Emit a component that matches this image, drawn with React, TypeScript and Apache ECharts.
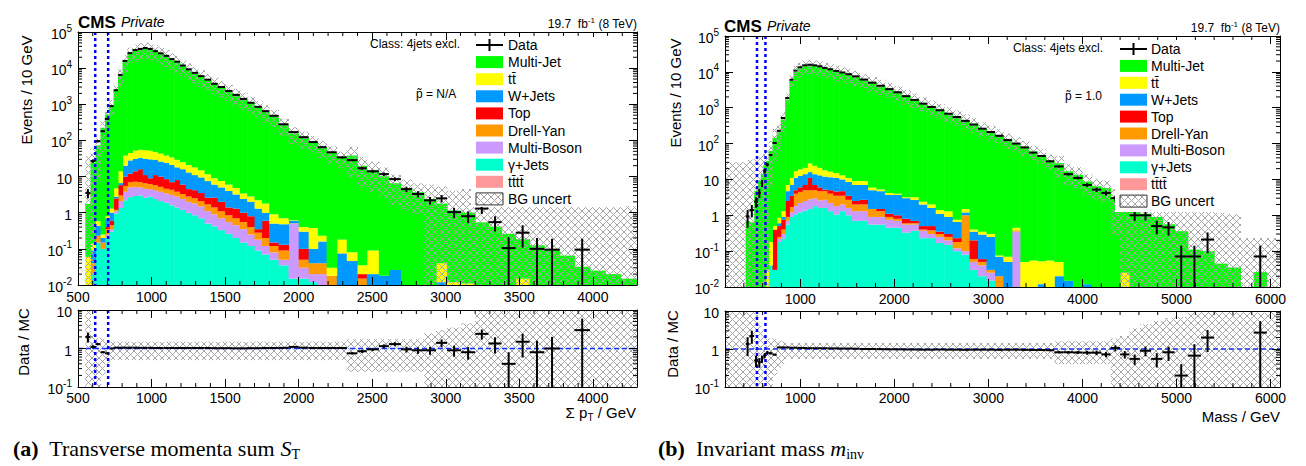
import React, { useEffect, useRef } from "react";
import * as echarts from "echarts";

// ================= Panel (a): transverse momenta sum =================
const L_EDGES = [550, 585, 619, 653, 683, 713, 742, 772, 803, 836, 870, 906, 940, 974, 1008, 1044, 1082, 1120, 1155, 1193, 1233, 1273, 1315, 1360, 1405, 1450, 1500, 1550, 1600, 1650, 1700, 1750, 1800, 1863, 1931, 2000, 2068, 2130, 2190, 2259, 2327, 2400, 2463, 2545, 2613, 2695, 2770, 2852, 2934, 3009, 3104, 3200, 3290, 3380, 3475, 3570, 3670, 3775, 3875, 3980, 4085, 4190, 4300];
const L_DATA = [3.5, 27, 95, 180, 390, 890, 2450, 6500, 15800, 26000,
  31600, 34000, 36000, 34000, 29500, 25700, 21900, 17800, 15100, 11800,
  9300, 7400, 6000, 4800, 3700, 3000, 2340, 1820, 1410, 1100,
  850, 645, 480, 280, 170, 123, 90, 65, 47, 34,
  28.5, 17, 14, 11.7, 8.5, 4.5, 3.3, 2.2, 2.5, 1.04,
  0.8, 1.3, 0.55, 0.105, 0.28, 0.1, 0.095, 0, 0.095, 0, 0, 0];
const L_RATIO = [2.0, 1.1, 1.3, 0.8, 0.75, 1.0, 1.05, 1.05, 1.05, 1.05,
  1.05, 1.04, 1.04, 1.04, 1.03, 1.03, 1.03, 1.03, 1.03, 1.03,
  1.03, 1.03, 1.03, 1.03, 1.02, 1.02, 1.02, 1.01, 1.01, 1.02,
  1.02, 1.03, 1.03, 1.04, 1.1, 1.05, 1.03, 1.03, 1.03, 1.03,
  0.75, 0.85, 0.95, 1.15, 1.3, 0.95, 0.9, 0.9, 1.4, 0.9,
  0.8, 2.4, 1.35, 0.4, 1.5, 0.8, 1.0, 0, 3.0, 0, 0, 0];
const L_MULTIJET = [1.7, 24.4, 72, 225, 520, 888, 2330, 6180, 15000, 24700,
  30000, 32600, 34600, 32600, 28600, 24900, 21200, 17200, 14600, 11400,
  9000, 7170, 5800, 4650, 3620, 2940, 2290, 1800, 1390, 1080,
  830, 625, 465, 269, 154, 117, 87, 63, 45.6, 33,
  38, 20, 14.7, 10.2, 6.5, 4.7, 3.7, 2.4, 1.75, 1.14,
  1.0, 0.54, 0.41, 0.26, 0.17, 0.125, 0.095, 0.065, 0.032, 0.025, 0.02, 0.015];
const L_TTBAR = [0.06, 0.05, 0.15, 0.05, 0.1, 0.3, 1.9, 7.4, 18, 17,
  21, 22, 23, 22, 19, 17, 14, 13, 11, 9,
  8, 7, 5.5, 4, 3, 2.5, 2, 1.6, 1.0, 0.8,
  0.9, 0.8, 0.4, 0.22, 0.02, 0.1, 0.28, 0.07, 0.012, 0.105,
  0.034, 0.015, 0.07, 0, 0, 0, 0, 0, 0.028, 0.012,
  0.011, 0, 0, 0, 0.015];
const L_WJETS = [0, 0.05, 0.2, 0.05, 0.3, 0.4, 0.3, 0.8, 10, 16,
  17, 17, 20, 21, 18, 16, 15.5, 14, 10, 10,
  8.5, 6.8, 6, 4.9, 3.4, 3, 2.6, 1.9, 1.4, 1.2,
  0.95, 0.4, 0.35, 0.35, 0.09, 0.2, 0.06, 0.12, 0, 0.075,
  0.046, 0, 0.02, 0.018, 0.026, 0, 0, 0, 0.012];
const L_TOP = [0, 0, 0, 0, 0.05, 0.15, 1.3, 2.8, 4.5, 5,
  6.8, 9, 4.5, 2.8, 5.2, 4.8, 3.9, 2.7, 4.2, 2.7,
  1.7, 1.7, 1.4, 0.9, 1.2, 0.9, 0.55, 0.6, 0.45, 0.4,
  0.07, 0.4, 0.03, 0.04, 0, 0.05, 0, 0, 0, 0,
  0, 0.005];
const L_DY = [0, 0.02, 0.08, 0.05, 0.1, 0.1, 0.1, 0.9, 1.7, 2,
  2.0, 2, 1.9, 1.7, 1.6, 1.4, 1.2, 1.2, 1.0, 0.9,
  0.8, 0.7, 0.6, 0.6, 0.5, 0.4, 0.3, 0.25, 0.2, 0.15,
  0.1, 0.08, 0.04, 0.04, 0.01, 0.02, 0.02, 0.02, 0.018, 0,
  0, 0.015];
const L_MULTIBOSON = [0, 0, 0, 0, 0.05, 0.05, 0.15, 0.75, 1.6, 2.3,
  2.3, 2, 2, 1.7, 1.8, 1.7, 1.5, 1.5, 1.4, 1.2,
  1.0, 0.95, 0.8, 0.6, 0.48, 0.37, 0.29, 0.25, 0.2, 0.13,
  0.09, 0.05, 0.03, 0.015, 0.485, 0.015, 0.008, 0.01];
const L_GJETS = [0, 0.02, 0.15, 0.1, 0.2, 0.3, 0.95, 1.35, 2.2, 2.7,
  2.9, 3, 2.6, 2.8, 2.4, 2.1, 1.9, 1.6, 1.4, 1.2,
  1.0, 0.85, 0.7, 0.5, 0.42, 0.33, 0.26, 0.2, 0.15, 0.12,
  0.09, 0.07, 0.05, 0.035, 0.015, 0.015, 0.012, 0.01];
const L_UNC = [20, 1.4, 0.9, 0.8, 0.6, 0.5, 0.5, 0.5, 0.5, 0.5,
  0.5, 0.5, 0.5, 0.5, 0.5, 0.5, 0.5, 0.5, 0.5, 0.5,
  0.5, 0.5, 0.5, 0.5, 0.5, 0.5, 0.5, 0.5, 0.5, 0.5,
  0.5, 0.5, 0.5, 0.5, 0.5, 0.5, 0.5, 0.5, 0.5, 0.5,
  0.75, 0.75, 0.75, 0.75, 0.75, 0.75, 0.75, 1.5, 2, 2.5,
  3.5, 9, 9, 9, 9, 12, 15, 25, 45, 60, 75, 100];
const L_ROI = [617, 705];

// ================= Panel (b): invariant mass =================
const R_EDGES = [200, 420, 460, 510, 550, 580, 607, 635, 665, 705, 750, 793, 840, 885, 927, 970, 1020, 1075, 1128, 1180, 1234, 1290, 1350, 1415, 1480, 1550, 1630, 1720, 1810, 1900, 1990, 2080, 2170, 2260, 2350, 2440, 2530, 2620, 2710, 2800, 2890, 2980, 3070, 3160, 3250, 3340, 3430, 3520, 3610, 3700, 3800, 3900, 4000, 4100, 4200, 4300, 4400, 4500, 4610, 4730, 4850, 4980, 5120, 5260, 5400, 5540, 5680, 5820, 5960, 6100];
const R_DATA = [0, 0.93, 1.4, 2.4, 4.2, 7.9, 17, 26, 48, 104,
  227, 515, 1860, 6000, 10800, 13400, 15200, 15800, 15200, 14300,
  12900, 11800, 10600, 9600, 8600, 7500, 6100, 5000, 4100, 3300,
  2700, 2100, 1650, 1300, 1050, 850, 680, 550, 430, 340,
  260, 210, 165, 125, 100, 78, 56, 45, 32, 23,
  14, 11, 7, 5.2, 4.2, 3, 2, 1.0, 1.0, 0.5,
  0.46, 0.071, 0.071, 0.21, 0, 0, 0, 0.071, 0];
const R_RATIO = [0, 1.35, 2.2, 0.5, 0.45, 0.55, 0.67, 0.8, 0.77, 0.71,
  1.1, 1.1, 1.1, 1.08, 1.08, 1.07, 1.06, 1.05, 1.05, 1.05,
  1.05, 1.04, 1.04, 1.03, 1.03, 1.02, 1.0, 1.0, 0.99, 0.98,
  0.98, 0.97, 0.97, 0.96, 0.96, 0.97, 0.96, 0.96, 0.95, 0.96,
  0.96, 0.96, 0.95, 0.96, 0.96, 0.95, 0.94, 0.94, 0.93, 0.82,
  0.82, 0.81, 0.8, 0.8, 0.72, 1.06, 0.72, 0.55, 0.9, 0.55,
  0.82, 0.2, 0.67, 2.0, 0, 0, 0, 2.7, 0];
const R_MULTIJET = [0.01, 0.69, 0.64, 4.8, 9.3, 14.4, 25, 32.5, 62, 146,
  206, 468, 1683, 5540, 9980, 12480, 14280, 15020, 14480, 13580,
  12270, 11330, 10180, 9310, 8340, 7340, 6090, 4990, 4135, 3365,
  2750, 2160, 1697, 1352, 1092, 875, 707, 572, 451, 354,
  271, 219, 174, 130, 104, 82, 60, 48, 34, 28,
  17, 13.6, 8.7, 6.5, 5.8, 2.8, 2.8, 1.8, 1.1, 0.9,
  0.56, 0.36, 0.11, 0.1, 0.045, 0.035, 0.01, 0.026, 0.01];
const R_TTBAR = [0, 0, 0, 0, 0, 0, 0, 0.03, 0.14, 0.1,
  0.25, 0.4, 2.3, 4, 6, 6.5, 7, 12, 10, 8,
  6, 5, 4, 3, 2.5, 2, 2, 1, 0.5, 0.5,
  0.3, 0.2, 0.5, 0.4, 0.4, 0.3, 0.4, 0.1, 0.3, 0.05,
  0.06, 0.05, 0.005, 0.02, 0.07, 0.05, 0.055, 0.04, 0.055, 0.03,
  0, 0, 0, 0, 0, 0, 0.025];
const R_WJETS = [0, 0, 0, 0, 0, 0, 0, 0, 0, 0,
  0.1, 0.15, 2.2, 3.5, 6, 6.5, 7, 5, 7, 7,
  6.8, 6.5, 6.4, 5.3, 5, 4.5, 4.3, 3.5, 3.2, 2.6,
  2.7, 2.2, 2.0, 1.5, 1.1, 0.75, 0.6, 0.42, 0.2, 0.15,
  0.23, 0.22, 0.05, 0.05, 0, 0, 0, 0.012, 0, 0.02,
  0.015, 0, 0.012];
const R_TOP = [0, 0, 0, 0, 0, 0, 0, 0, 0, 0.37,
  0.25, 0.35, 1.6, 1.8, 1.0, 1.5, 2, 6, 2, 1.3,
  0.5, 1.0, 1.1, 1.2, 0.8, 0.5, 0.7, 0, 0.2, 0.2,
  0.2, 0.2, 0.1, 0.1, 0.12, 0.05, 0.05, 0.05, 0, 0.14,
  0.01];
const R_DY = [0, 0, 0, 0, 0, 0, 0, 0, 0, 0,
  0.03, 0.1, 0.2, 0.5, 2.2, 2.3, 2.5, 2.2, 2, 2.1,
  2.0, 1.8, 1.7, 1.5, 1.1, 0.7, 0.7, 0.6, 0.4, 0.15,
  0.1, 0.05, 0.05, 0.03, 0.08, 0.05, 0.05, 0.06, 0.9, 0.01,
  0.01, 0.005, 0.01, 0, 0.03];
const R_MULTIBOSON = [0, 0, 0, 0, 0, 0, 0, 0, 0, 0,
  0.04, 0.08, 0.15, 0.3, 0.75, 1.0, 1.15, 1.3, 1.2, 1.0,
  1.1, 0.9, 0.75, 0.7, 0.6, 0.6, 0.6, 0.35, 0.35, 0.3,
  0.25, 0.22, 0.18, 0.14, 0.07, 0.08, 0.05, 0.02, 0.02, 0.02,
  0.02, 0.01, 0.01, 0, 0.35];
const R_GJETS = [0, 0, 0, 0, 0, 0, 0, 0, 0.04, 0.03,
  0.18, 0.22, 0.55, 0.9, 1.05, 1.2, 1.35, 1.5, 1.8, 1.6,
  1.6, 1.3, 1.05, 1.3, 1.0, 0.7, 0.7, 0.55, 0.55, 0.45,
  0.45, 0.33, 0.37, 0.23, 0.23, 0.17, 0.15, 0.1, 0.08, 0.03,
  0.02, 0.015];
const R_UNC = [3000, 50, 55, 7, 3.5, 2.3, 1.2, 1.0, 0.9, 0.8,
  0.7, 0.6, 0.45, 0.45, 0.45, 0.45, 0.45, 0.45, 0.45, 0.45,
  0.45, 0.45, 0.45, 0.45, 0.45, 0.45, 0.45, 0.45, 0.45, 0.45,
  0.45, 0.45, 0.45, 0.45, 0.45, 0.45, 0.45, 0.45, 0.45, 0.45,
  0.45, 0.45, 0.45, 0.45, 0.45, 0.45, 0.45, 0.45, 0.45, 0.6,
  0.6, 0.6, 0.6, 0.6, 0.6, 0.9, 1.2, 2.5, 3.5, 4.5,
  5.5, 6, 10, 12, 25, 30, 22, 8, 22];
const R_ROI = [540, 630];

const LEGEND_LABELS = ["Data", "Multi-Jet", "tt\u0304", "W+Jets", "Top", "Drell-Yan", "Multi-Boson", "\u03b3+Jets", "tt\u0304tt\u0304", "BG uncert"];

const COL = { mj: "#00ff00", tt: "#ffff00", wj: "#0099ff", top: "#ff0000", dy: "#ff9900", mb: "#cc99ff", gj: "#00ffcc", tttt: "#ff9999" };
const LEGEND_COLORS = [null, COL.mj, COL.tt, COL.wj, COL.top, COL.dy, COL.mb, COL.gj, COL.tttt, null];
const FONT = "'Liberation Sans', Arial, Helvetica, sans-serif";
const SERIF = "'Liberation Serif', 'Times New Roman', serif";
const Y_MIN = 0.01, Y_MAX = 1e5, R_MIN = 0.1, R_MAX = 10;

function makeHatch() {
  const s = 7;
  const c = document.createElement("canvas");
  c.width = s; c.height = s;
  const g = c.getContext("2d")!;
  g.strokeStyle = "#a6a6a6";
  g.lineWidth = 1;
  g.beginPath();
  g.moveTo(0, 0); g.lineTo(s, s);
  g.moveTo(s, 0); g.lineTo(0, s);
  g.stroke();
  return c;
}

function rectSeries(items: number[][], xi: number, yi: number, fill: any, z: number) {
  return {
    type: "custom", xAxisIndex: xi, yAxisIndex: yi, z, silent: true,
    encode: { x: [0, 1], y: [2, 3] }, data: items,
    renderItem: (_p: any, api: any) => {
      const a = api.coord([api.value(0), api.value(3)]);
      const b = api.coord([api.value(1), api.value(2)]);
      return { type: "rect", shape: { x: a[0], y: a[1], width: b[0] - a[0] + 0.5, height: b[1] - a[1] }, style: { fill } };
    },
  };
}

function pointSeries(items: number[][], xi: number, yi: number) {
  return {
    type: "custom", xAxisIndex: xi, yAxisIndex: yi, z: 6, silent: true,
    encode: { x: [0, 1], y: [2, 3, 4] }, data: items,
    renderItem: (_p: any, api: any) => {
      const x0 = api.value(0), x1 = api.value(1), v = api.value(2), lo = api.value(3), hi = api.value(4);
      const xc = (x0 + x1) / 2;
      const a = api.coord([x0, v]), b = api.coord([x1, v]);
      const l = api.coord([xc, lo]), h = api.coord([xc, hi]);
      return {
        type: "group", children: [
          { type: "line", shape: { x1: a[0], y1: a[1], x2: b[0], y2: b[1] }, style: { stroke: "#000", lineWidth: 2 } },
          { type: "line", shape: { x1: l[0], y1: l[1], x2: h[0], y2: h[1] }, style: { stroke: "#000", lineWidth: 2 } },
        ],
      };
    },
  };
}

function vLines(xs: number[], xi: number, yi: number, yRef: number) {
  return {
    type: "custom", xAxisIndex: xi, yAxisIndex: yi, z: 5, silent: true,
    encode: { x: 0, y: 1 }, data: xs.map((x) => [x, yRef]),
    renderItem: (params: any, api: any) => {
      const cs = params.coordSys;
      const p = api.coord([api.value(0), api.value(1)]);
      return { type: "line", shape: { x1: p[0], y1: cs.y, x2: p[0], y2: cs.y + cs.height }, style: { stroke: "#0000ff", lineWidth: 2.5, lineDash: [3, 3] } };
    },
  };
}

function hLine(xRef: number, yv: number, xi: number, yi: number) {
  return {
    type: "custom", xAxisIndex: xi, yAxisIndex: yi, z: 5, silent: true,
    encode: { x: 0, y: 1 }, data: [[xRef, yv]],
    renderItem: (params: any, api: any) => {
      const cs = params.coordSys;
      const p = api.coord([api.value(0), api.value(1)]);
      return { type: "line", shape: { x1: cs.x, y1: p[1], x2: cs.x + cs.width, y2: p[1] }, style: { stroke: "#1030ff", lineWidth: 1.6, lineDash: [5, 3] } };
    },
  };
}

function minorTicks(xTicks: number[], yTicks: number[], xRef: number, yRef: number, xi: number, yi: number) {
  const data = [...xTicks.map((v) => [v, yRef, 0]), ...yTicks.map((v) => [xRef, v, 1])];
  return {
    type: "custom", xAxisIndex: xi, yAxisIndex: yi, z: 12, silent: true,
    encode: { x: 0, y: 1 }, data,
    renderItem: (params: any, api: any) => {
      const cs = params.coordSys;
      const p = api.coord([api.value(0), api.value(1)]);
      const st = { stroke: "#000", lineWidth: 1 };
      if (api.value(2) === 0) {
        return { type: "group", children: [
          { type: "line", shape: { x1: p[0], y1: cs.y + cs.height, x2: p[0], y2: cs.y + cs.height - 4 }, style: st },
          { type: "line", shape: { x1: p[0], y1: cs.y, x2: p[0], y2: cs.y + 4 }, style: st },
        ] };
      }
      return { type: "group", children: [
        { type: "line", shape: { x1: cs.x, y1: p[1], x2: cs.x + 4, y2: p[1] }, style: st },
        { type: "line", shape: { x1: cs.x + cs.width, y1: p[1], x2: cs.x + cs.width - 4, y2: p[1] }, style: st },
      ] };
    },
  };
}

type Panel = {
  edges: number[]; data: number[]; ratio: number[]; unc: number[];
  comps: { v: number[]; c: string }[]; roi: number[];
  xMin: number; xMax: number; major: number; minor: number; useInterval: boolean;
};

function panelSeries(p: Panel, mx: number, rx: number, hatch: any) {
  const n = p.edges.length - 1;
  const cum = new Array(n).fill(0);
  const out: any[] = [];
  p.comps.forEach((s) => {
    const items: number[][] = [];
    for (let i = 0; i < n; i++) {
      const val = s.v[i] ?? 0;
      const lo = cum[i];
      const hi = lo + val;
      cum[i] = hi;
      if (val > 0 && hi > Y_MIN) items.push([p.edges[i], p.edges[i + 1], Math.max(lo, Y_MIN), Math.min(hi, Y_MAX)]);
    }
    out.push(rectSeries(items, mx, mx, s.c, 2));
  });
  const band: number[][] = [], rband: number[][] = [], pts: number[][] = [], rpts: number[][] = [];
  for (let i = 0; i < n; i++) {
    const t = cum[i], u = p.unc[i] ?? 0;
    const e0 = p.edges[i], e1 = p.edges[i + 1];
    if (t > 0 && u > 0) {
      const hi = t * (1 + u), lo = t * (1 - u);
      if (hi > Y_MIN) band.push([e0, e1, Math.max(lo, Y_MIN), Math.min(hi, Y_MAX)]);
      rband.push([e0, e1, Math.max(1 - u, R_MIN), Math.min(1 + u, R_MAX)]);
    }
    const d = p.data[i] ?? 0;
    if (d > 0) {
      const w = e1 - e0;
      const err = Math.sqrt((d * 10) / w);
      pts.push([e0, e1, d, Math.max(d - err, Y_MIN), d + err]);
      const r = p.ratio[i] ?? 0;
      if (r > 0) {
        const re = (r * err) / d;
        rpts.push([e0, e1, r, Math.max(r - re, R_MIN * 1.0001), Math.min(r + re, R_MAX)]);
      }
    }
  }
  out.push(rectSeries(band, mx, mx, hatch, 3));
  out.push(rectSeries(rband, rx, rx, hatch, 3));
  out.push(vLines(p.roi, mx, mx, 1));
  out.push(vLines(p.roi, rx, rx, 1));
  out.push(hLine(p.xMin, 1, rx, rx));
  out.push(pointSeries(pts, mx, mx));
  out.push(pointSeries(rpts, rx, rx));
  const xm: number[] = [];
  for (let v = p.xMin + p.minor; v < p.xMax; v += p.minor) if (Math.abs(v % p.major) > 1e-6) xm.push(v);
  const ymMain: number[] = [], ymRatio: number[] = [];
  for (let e = -2; e <= 4; e++) for (let m = 2; m <= 9; m++) ymMain.push(Number((m * Math.pow(10, e)).toPrecision(3)));
  for (let e = -1; e <= 0; e++) for (let m = 2; m <= 9; m++) ymRatio.push(Number((m * Math.pow(10, e)).toPrecision(3)));
  out.push(minorTicks(xm, ymMain, p.xMin, Y_MIN, mx, mx));
  out.push(minorTicks(xm, ymRatio, p.xMin, R_MIN, rx, rx));
  return out;
}

const logLabel = (v: number) => {
  const e = Math.round(Math.log10(v));
  if (e === 0) return "{b|1}";
  if (e === 1) return "{b|10}";
  return `{b|10}{s|${e}}`;
};
const LOG_RICH = {
  b: { fontSize: 14, fontFamily: FONT, color: "#000", lineHeight: 18, verticalAlign: "bottom" },
  s: { fontSize: 10, fontFamily: FONT, color: "#000", lineHeight: 18, verticalAlign: "top" },
};

function xAxisDef(gridIndex: number, p: Panel, position: string, showLabel: boolean, margin: number) {
  const a: any = {
    type: "value", gridIndex, min: p.xMin, max: p.xMax, position, z: 10,
    axisLine: { onZero: false, lineStyle: { color: "#000", width: 1 } },
    axisTick: { inside: true, length: 8, lineStyle: { color: "#000" } },
    splitLine: { show: false }, minorTick: { show: false },
    axisLabel: { show: showLabel, color: "#000", fontFamily: FONT, fontSize: 14, margin,
      formatter: (v: number) => (Math.abs(v % p.major) < 1e-6 ? String(v) : "") },
  };
  if (p.useInterval) a.interval = p.major; else { a.minInterval = p.major; a.maxInterval = p.major; a.splitNumber = 6; }
  return a;
}
function yAxisDef(gridIndex: number, min: number, max: number, split: number, position: string, showLabel: boolean) {
  return {
    type: "log", logBase: 10, gridIndex, min, max, splitNumber: split, position, z: 10,
    axisLine: { onZero: false, lineStyle: { color: "#000", width: 1 } },
    axisTick: { inside: true, length: 8, lineStyle: { color: "#000" } },
    splitLine: { show: false }, minorTick: { show: false },
    axisLabel: { show: showLabel, margin: 6, formatter: logLabel, rich: LOG_RICH },
  };
}

function text(x: number, y: number, t: string, o: any = {}) {
  const { rotation, rich, ...style } = o;
  return {
    type: "text", x, y, z: 100, rotation: rotation || 0,
    style: { text: t, fill: "#000", fontFamily: FONT, fontSize: 14, align: "left", verticalAlign: "middle", rich, ...style },
  };
}

function legend(x0: number, textX: number, y0: number, dy: number, box: number[], hatch: any) {
  const els: any[] = [{ type: "rect", z: 99, shape: { x: box[0], y: box[1], width: box[2], height: box[3] }, style: { fill: "#fff" } }];
  LEGEND_LABELS.forEach((lab, i) => {
    const y = y0 + i * dy;
    if (i === 0) {
      els.push({ type: "line", z: 100, shape: { x1: x0, y1: y, x2: x0 + 27, y2: y }, style: { stroke: "#000", lineWidth: 2 } });
      els.push({ type: "line", z: 100, shape: { x1: x0 + 13.5, y1: y - 6, x2: x0 + 13.5, y2: y + 6 }, style: { stroke: "#000", lineWidth: 2 } });
    } else if (i === LEGEND_LABELS.length - 1) {
      els.push({ type: "rect", z: 100, shape: { x: x0, y: y - 6, width: 27, height: 12 }, style: { fill: hatch, stroke: "#333", lineWidth: 1 } });
    } else {
      els.push({ type: "rect", z: 100, shape: { x: x0, y: y - 6, width: 27, height: 12 }, style: { fill: LEGEND_COLORS[i] } });
    }
    els.push(text(textX, y, lab, { fontSize: 14 }));
  });
  return els;
}

function buildOption() {
  const hatch = { image: makeHatch(), repeat: "repeat" };
  const L: Panel = {
    edges: L_EDGES, data: L_DATA, ratio: L_RATIO, unc: L_UNC, roi: L_ROI,
    comps: [{ v: L_GJETS, c: COL.gj }, { v: L_MULTIBOSON, c: COL.mb }, { v: L_DY, c: COL.dy }, { v: L_TOP, c: COL.top }, { v: L_WJETS, c: COL.wj }, { v: L_TTBAR, c: COL.tt }, { v: L_MULTIJET, c: COL.mj }],
    xMin: 500, xMax: 4300, major: 500, minor: 100, useInterval: true,
  };
  const R: Panel = {
    edges: R_EDGES, data: R_DATA, ratio: R_RATIO, unc: R_UNC, roi: R_ROI,
    comps: [{ v: R_GJETS, c: COL.gj }, { v: R_MULTIBOSON, c: COL.mb }, { v: R_DY, c: COL.dy }, { v: R_TOP, c: COL.top }, { v: R_WJETS, c: COL.wj }, { v: R_TTBAR, c: COL.tt }, { v: R_MULTIJET, c: COL.mj }],
    xMin: 200, xMax: 6100, major: 1000, minor: 200, useInterval: false,
  };
  const grid = [
    { left: 70, top: 24, width: 559, height: 253 },
    { left: 70, top: 302, width: 559, height: 77 },
    { left: 717, top: 28, width: 555, height: 251 },
    { left: 717, top: 303, width: 555, height: 76 },
  ];
  const panels = [L, L, R, R];
  const xAxis: any[] = [], yAxis: any[] = [];
  for (let g = 0; g < 4; g++) {
    const isMain = g % 2 === 0;
    xAxis.push(xAxisDef(g, panels[g], "bottom", true, isMain ? 5 : 4));
    xAxis.push(xAxisDef(g, panels[g], "top", false, 4));
    yAxis.push(yAxisDef(g, isMain ? Y_MIN : R_MIN, isMain ? Y_MAX : R_MAX, isMain ? 7 : 2, "left", true));
    yAxis.push(yAxisDef(g, isMain ? Y_MIN : R_MIN, isMain ? Y_MAX : R_MAX, isMain ? 7 : 2, "right", false));
  }
  const series = [...panelSeries(L, 0, 2, hatch), ...panelSeries(R, 4, 6, hatch)];

  const supRich = { s: { fontSize: 8, fontFamily: FONT, lineHeight: 14, verticalAlign: "top" }, n: { fontSize: 12, fontFamily: FONT, lineHeight: 14, verticalAlign: "bottom" } };
  const subRich = (fs: number, sfs: number) => ({
    n: { fontSize: fs, fontFamily: FONT, lineHeight: fs + 6, verticalAlign: "middle" },
    u: { fontSize: sfs, fontFamily: FONT, lineHeight: fs + 6, verticalAlign: "bottom" },
  });
  const capRich = {
    b: { fontSize: 22, fontFamily: SERIF, fontWeight: "bold", lineHeight: 26, verticalAlign: "middle" },
    n: { fontSize: 22, fontFamily: SERIF, lineHeight: 26, verticalAlign: "middle" },
    i: { fontSize: 22, fontFamily: SERIF, fontStyle: "italic", lineHeight: 26, verticalAlign: "middle" },
    u: { fontSize: 14, fontFamily: SERIF, lineHeight: 26, verticalAlign: "bottom" },
  };

  const graphics: any[] = [
    // panel (a)
    text(70, 14, "CMS", { fontWeight: "bold", fontSize: 17 }),
    text(113, 14, "Private", { fontStyle: "italic", fontSize: 14 }),
    text(629, 15, "{n|19.7  fb}{s|-1}{n| (8 TeV)}", { align: "right", rich: supRich }),
    text(452, 36, "Class: 4jets excl.", { align: "right", fontSize: 12 }),
    text(408, 86, "p\u0303 = N/A", { fontSize: 12 }),
    text(18, 82, "Events / 10 GeV", { rotation: Math.PI / 2, align: "center", fontSize: 15 }),
    text(15, 334, "Data / MC", { rotation: Math.PI / 2, align: "center", fontSize: 15 }),
    text(628, 404, "{n|\u03a3 p}{u|T}{n| / GeV}", { align: "right", rich: subRich(15, 10) }),
    text(5, 440, "{b|(a)}{n|  Transverse momenta sum }{i|S}{u|T}", { rich: capRich }),
    // panel (b)
    text(716, 18, "CMS", { fontWeight: "bold", fontSize: 17 }),
    text(759, 18, "Private", { fontStyle: "italic", fontSize: 14 }),
    text(1272, 19, "{n|19.7  fb}{s|-1}{n| (8 TeV)}", { align: "right", rich: supRich }),
    text(1095, 40, "Class: 4jets excl.", { align: "right", fontSize: 12 }),
    text(1057, 88, "p\u0303 = 1.0", { fontSize: 12 }),
    text(667, 85, "Events / 10 GeV", { rotation: Math.PI / 2, align: "center", fontSize: 15 }),
    text(664, 336, "Data / MC", { rotation: Math.PI / 2, align: "center", fontSize: 15 }),
    text(1272, 408, "Mass / GeV", { align: "right", fontSize: 15 }),
    text(650, 440, "{b|(b)}{n|  Invariant mass }{i|m}{u|inv}", { rich: capRich }),
    ...legend(468, 500, 37, 17.1, [463, 29, 155, 170], hatch),
    ...legend(1112, 1143, 41, 16.9, [1107, 32, 155, 172], hatch),
  ];

  return {
    animation: false,
    backgroundColor: "#fff",
    tooltip: { show: false },
    grid, xAxis, yAxis, series,
    graphic: { elements: graphics },
  };
}

export default function App() {
  const ref = useRef<HTMLDivElement>(null);
  useEffect(() => {
    if (!ref.current) return;
    const chart = echarts.init(ref.current, null, { renderer: "svg" });
    chart.setOption(buildOption() as any);
    return () => chart.dispose();
  }, []);
  return <div ref={ref} style={{ position: "fixed", left: 0, top: 0, width: 1306, height: 466, background: "#fff" }} />;
}
